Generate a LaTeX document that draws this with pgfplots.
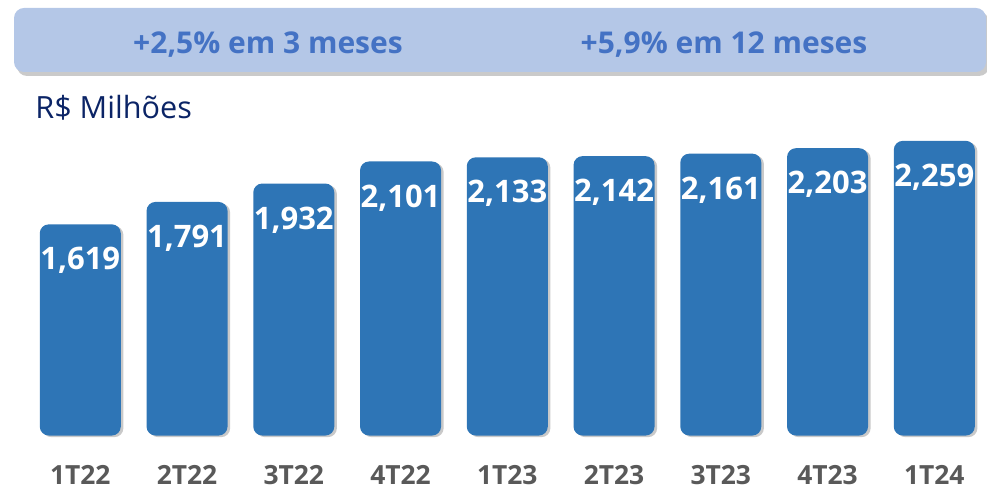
\documentclass[border=0pt]{standalone}
\usepackage{pgfplots}
\pgfplotsset{compat=1.18}
\usepackage{pgfplotstable}
\usepackage{fontspec}
\setmainfont{Open Sans}
\usetikzlibrary{shadows}
\definecolor{barblue}{HTML}{2E75B6}
\definecolor{banner}{HTML}{B4C7E7}
\definecolor{bannertxt}{HTML}{4472C4}
\definecolor{navy}{HTML}{0B2466}
\definecolor{lblgray}{HTML}{595959}
\pgfplotstableread{
x y lbl
0 1619 1,619
1 1791 1,791
2 1932 1,932
3 2101 2,101
4 2133 2,133
5 2142 2,142
6 2161 2,161
7 2203 2,203
8 2259 2,259
}\mydata
\begin{document}
\begin{tikzpicture}[x=0.5pt,y=0.5pt]
\path[use as bounding box] (0,0) rectangle (987,491);
% banner
\fill[banner, rounded corners=5pt, drop shadow={shadow xshift=1.5pt, shadow yshift=-2pt, opacity=0.35, fill=black!60}]
  (14,491-72) rectangle (986,491-8);
\node[text=bannertxt, font=\bfseries\fontsize{15pt}{17pt}\selectfont] at (268,491-45) {+2,5\% em 3 meses};
\node[text=bannertxt, font=\bfseries\fontsize{15pt}{17pt}\selectfont] at (724,491-45) {+5,9\% em 12 meses};
\node[text=navy, anchor=base west, inner sep=0pt, font=\fontsize{15.3pt}{18pt}\selectfont] at (35,491-119) {R\$ Milhões};
\begin{axis}[
  at={(25.2,42.5)}, anchor=south west,
  scale only axis, width=480.4pt, height=167.5pt,
  xmin=-0.5, xmax=8.5, ymin=0, ymax=2568,
  enlargelimits=false, clip=false,
  axis line style={draw=none},
  ytick=\empty,
  xtick=data,
  xticklabels={1T22,2T22,3T22,4T22,1T23,2T23,3T23,4T23,1T24},
  major tick length=0pt,
  xticklabel style={anchor=base, yshift=-24.6pt, text=lblgray, font=\bfseries\fontsize{13.2pt}{15pt}\selectfont},
  ybar, bar width=0.759,
  nodes near coords,
  point meta=explicit symbolic,
  every node near coord/.append style={anchor=base, yshift=-22.8pt, text=white, font=\bfseries\fontsize{15.5pt}{18pt}\selectfont, inner sep=0pt},
]
\addplot[fill=barblue, draw=none, rounded corners=4.5pt,
  drop shadow={shadow xshift=1.3pt, shadow yshift=-0.8pt, opacity=0.3, fill=black!70}]
  table[x=x, y=y, meta=lbl] {\mydata};
\end{axis}
\end{tikzpicture}
\end{document}
